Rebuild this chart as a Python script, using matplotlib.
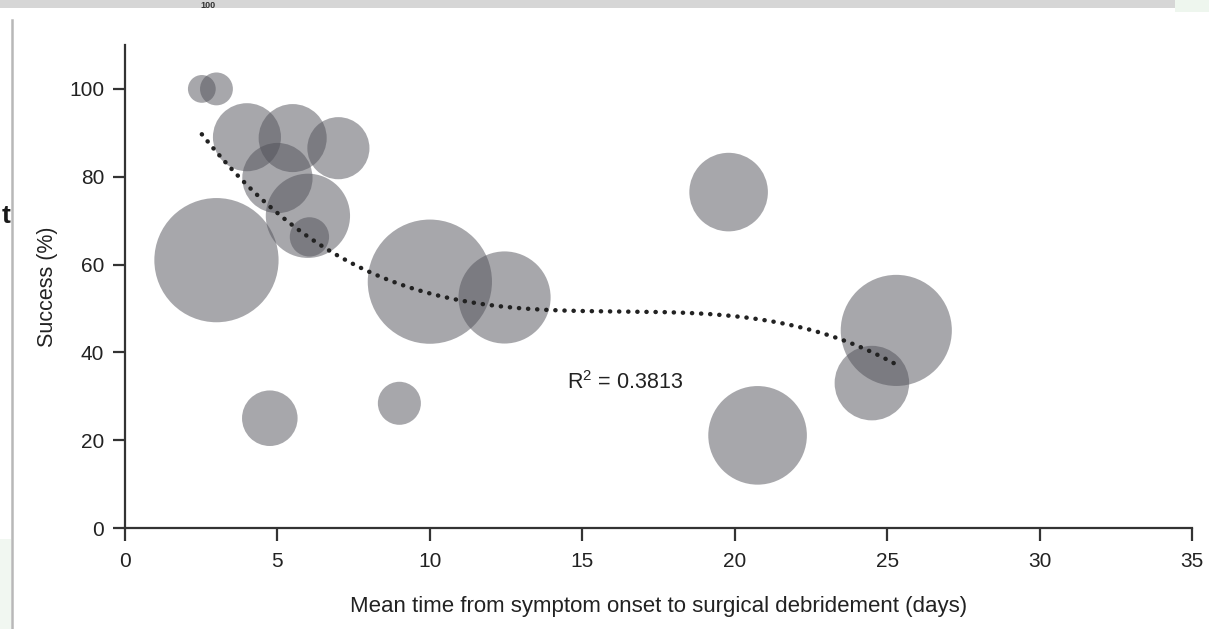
import numpy as np
import matplotlib
matplotlib.use('Agg')
import matplotlib.pyplot as plt
from matplotlib.patches import Rectangle


# bubble data
days = [2.52, 3.0, 4.0, 5.5, 7.0, 5.0, 6.0, 6.05, 3.0, 10.0, 12.45, 4.75, 9.0, 19.8, 25.3, 24.5, 20.75]
success = [100, 100, 89, 88.8, 86.5, 79.7, 71.1, 66.3, 61, 56.1, 52.5, 25, 28.4, 76.5, 45, 33, 21.1]
n_patients = [5, 7, 30, 30, 25, 32, 46, 10, 100, 100, 55, 20, 12, 40, 80, 36, 63]

x_ticks = [0, 5, 10, 15, 20, 25, 30, 35]
y_ticks = [0, 20, 40, 60, 80, 100]
r2_label = 'R$^2$ = 0.3813'

plt.rcParams['font.family'] = ['Liberation Sans', 'DejaVu Sans']
plt.rcParams['mathtext.fontset'] = 'custom'
plt.rcParams['mathtext.rm'] = 'Liberation Sans'
plt.rcParams['mathtext.it'] = 'Liberation Sans'

fig = plt.figure(figsize=(12.09, 6.29), dpi=100)
W, H = 1209, 629

# screenshot frame around the chart
fig.patches.append(Rectangle((0, 1 - 8 / H), 1175 / W, 8 / H, transform=fig.transFigure,
                             facecolor='#d6d6d6', edgecolor='none', zorder=0))
fig.patches.append(Rectangle((1175 / W, 1 - 12 / H), 34 / W, 12 / H, transform=fig.transFigure,
                             facecolor='#eef6ee', edgecolor='none', zorder=0))
fig.patches.append(Rectangle((0, 0), 11 / W, 90 / H, transform=fig.transFigure,
                             facecolor='#f1f7f1', edgecolor='none', zorder=0))
fig.lines.append(plt.Line2D([11.5 / W, 11.5 / W], [0, 1 - 20 / H], transform=fig.transFigure,
                            color='#b8b8b8', lw=1.8))
fig.text(2 / W, 1 - 216 / H, 't', fontsize=19, fontweight='bold', color='#1a1a1a', va='center')
fig.text(200 / W, 1 - 0.5 / H, '100', fontsize=6.5, fontweight='bold', color='#333333',
         va='top', zorder=5)

ax = fig.add_axes([125 / W, 101 / H, (1192 - 125) / W, (528 - 45) / H])

sizes = [n * 80 for n in n_patients]
ax.scatter(days, success, s=sizes, color='#505058', alpha=0.5, edgecolors='none', zorder=2)

# polynomial trendline (order 3) over the data range
coef = np.polyfit(days, success, 3)
xs = np.linspace(min(days), max(days), 300)
ax.plot(xs, np.polyval(coef, xs), linestyle=(0, (0.05, 2.0)), dash_capstyle='round',
        color='#222222', lw=3.2, zorder=3)

ax.text(14.5, 33.2, r2_label, fontsize=15.5, color='#222222', va='center')

ax.set_xlim(0, 35)
ax.set_ylim(0, 110)
ax.set_xticks(x_ticks)
ax.set_yticks(y_ticks)
for side in ['top', 'right']:
    ax.spines[side].set_visible(False)
for side in ['left', 'bottom']:
    ax.spines[side].set_color('#333333')
    ax.spines[side].set_linewidth(1.6)
ax.tick_params(axis='both', length=9, width=1.6, color='#333333', labelsize=15,
               labelcolor='#222222')
ax.tick_params(axis='x', pad=8)
ax.tick_params(axis='y', pad=6)
ax.set_xlabel('Mean time from symptom onset to surgical debridement (days)', fontsize=16,
              color='#222222', labelpad=18)
ax.set_ylabel('Success (%)', fontsize=15.5, color='#222222', labelpad=8)

fig.savefig('out.png', dpi=100)
